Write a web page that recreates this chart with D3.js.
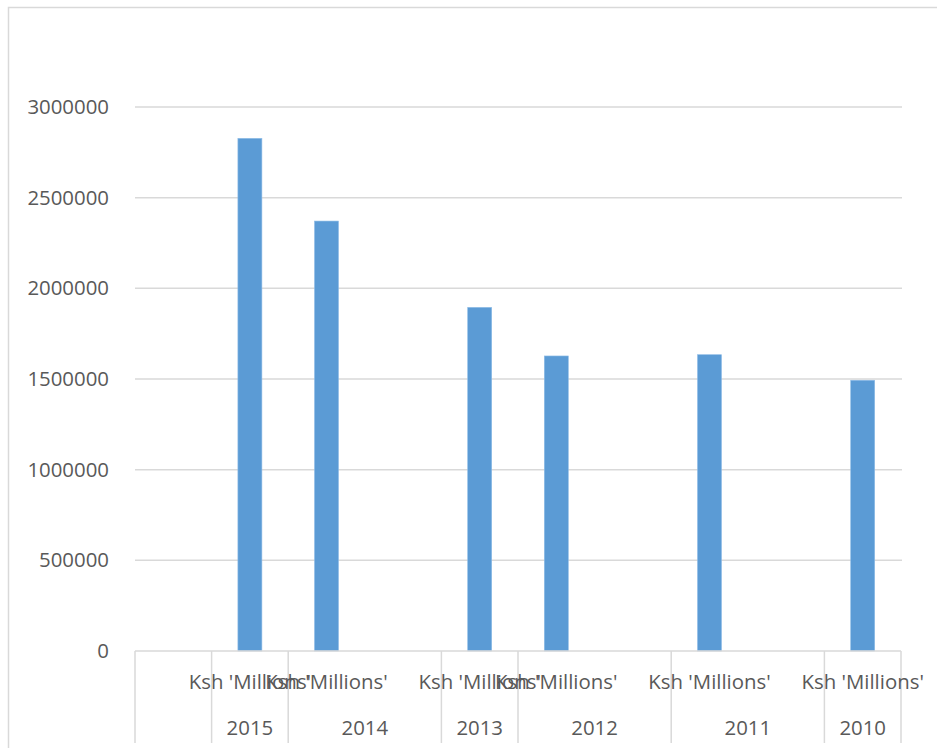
<!DOCTYPE html>
<html>
<head>
<meta charset="utf-8">
<script src="https://cdn.jsdelivr.net/npm/d3@7"></script>
<style>
  html, body { margin: 0; padding: 0; background: #fff; }
  svg { display: block; }
  text { font-family: "Open Sans", Lato, sans-serif; fill: #595959; }
</style>
</head>
<body>
<svg id="chart" width="937" height="748"></svg>
<script>
// Category slots: outer level (year) and inner level (unit label), one per slot
const slotYears = ["", "2015", "2014", "2014", "2013", "2012", "2012", "2011", "2011", "2010"];
const slotUnits = ["", "Ksh 'Millions'", "Ksh 'Millions'", "", "Ksh 'Millions'", "Ksh 'Millions'", "", "Ksh 'Millions'", "", "Ksh 'Millions'"];
// Values per slot (null = empty slot)
const slotValues = [null, 2827000, 2371000, null, 1895000, 1627000, null, 1634000, null, 1493000];
// Value axis ticks
const yTicks = [0, 500000, 1000000, 1500000, 2000000, 2500000, 3000000];

const svg = d3.select("#chart");
const W = 937, H = 748;
const plot = { left: 135, right: 901, top: 107, bottom: 651 };
const gridColor = "#d9d9d9";
const barColor = "#5b9bd5";
const fontSize = 20.4;
const fontFamily = "'Open Sans', Lato, sans-serif";

// Outer chart frame
svg.append("rect")
  .attr("x", 8.5).attr("y", 7.5)
  .attr("width", W + 10).attr("height", H + 10)
  .attr("fill", "none").attr("stroke", gridColor).attr("stroke-width", 1.5);

const x = d3.scaleBand()
  .domain(d3.range(slotValues.length))
  .range([plot.left, plot.right])
  .paddingInner(0).paddingOuter(0);

const y = d3.scaleLinear()
  .domain([0, d3.max(yTicks)])
  .range([plot.bottom, plot.top]);

// Horizontal gridlines (skip zero, which is the category axis line)
svg.append("g")
  .selectAll("line")
  .data(yTicks.filter(t => t > 0))
  .join("line")
  .attr("x1", plot.left).attr("x2", plot.right + 1)
  .attr("y1", d => y(d)).attr("y2", d => y(d))
  .attr("stroke", gridColor).attr("stroke-width", 1.5);

// Value axis labels
const yAxis = svg.append("g")
  .attr("transform", `translate(${plot.left},0)`)
  .call(d3.axisLeft(y).tickValues(yTicks).tickFormat(d3.format("d")).tickSize(0).tickPadding(26));
yAxis.select(".domain").remove();
yAxis.selectAll("text")
  .style("font-size", fontSize + "px")
  .style("font-family", fontFamily)
  .attr("fill", "#595959");

// Bars
const barW = x.bandwidth() * 0.313;
svg.append("g")
  .selectAll("rect")
  .data(slotValues.map((v, i) => ({ i, v })).filter(d => d.v != null))
  .join("rect")
  .attr("x", d => x(d.i) + (x.bandwidth() - barW) / 2)
  .attr("width", barW)
  .attr("y", d => y(d.v))
  .attr("height", d => y(0) - y(d.v))
  .attr("fill", barColor)
  .attr("stroke", "#8dbbe6").attr("stroke-width", 0.6);

// Category axis line
svg.append("line")
  .attr("x1", plot.left).attr("x2", plot.right)
  .attr("y1", plot.bottom).attr("y2", plot.bottom)
  .attr("stroke", gridColor).attr("stroke-width", 1.5);

// Outer groups: consecutive runs of the same year
const groups = [];
slotYears.forEach((yr, i) => {
  const last = groups[groups.length - 1];
  if (last && last.year === yr && i > 0) last.end = i;
  else groups.push({ year: yr, start: i, end: i });
});

// Divider lines between outer groups
const dividers = groups.map(g => x(g.start)).concat([plot.right]);
svg.append("g")
  .selectAll("line")
  .data(dividers)
  .join("line")
  .attr("x1", d => d).attr("x2", d => d)
  .attr("y1", plot.bottom).attr("y2", 743)
  .attr("stroke", gridColor).attr("stroke-width", 1.5);

// Inner category labels
svg.append("g")
  .selectAll("text")
  .data(slotUnits.map((u, i) => ({ u, i })).filter(d => d.u))
  .join("text")
  .attr("x", d => x(d.i) + x.bandwidth() / 2)
  .attr("y", 682)
  .attr("dy", "0.35em")
  .attr("text-anchor", "middle")
  .style("font-size", fontSize + "px")
  .style("font-family", fontFamily)
  .text(d => d.u);

// Outer category (year) labels
svg.append("g")
  .selectAll("text")
  .data(groups.filter(g => g.year))
  .join("text")
  .attr("x", g => (x(g.start) + x(g.end) + x.bandwidth()) / 2)
  .attr("y", 728)
  .attr("dy", "0.35em")
  .attr("text-anchor", "middle")
  .style("font-size", fontSize + "px")
  .style("font-family", fontFamily)
  .text(g => g.year);
</script>
</body>
</html>
